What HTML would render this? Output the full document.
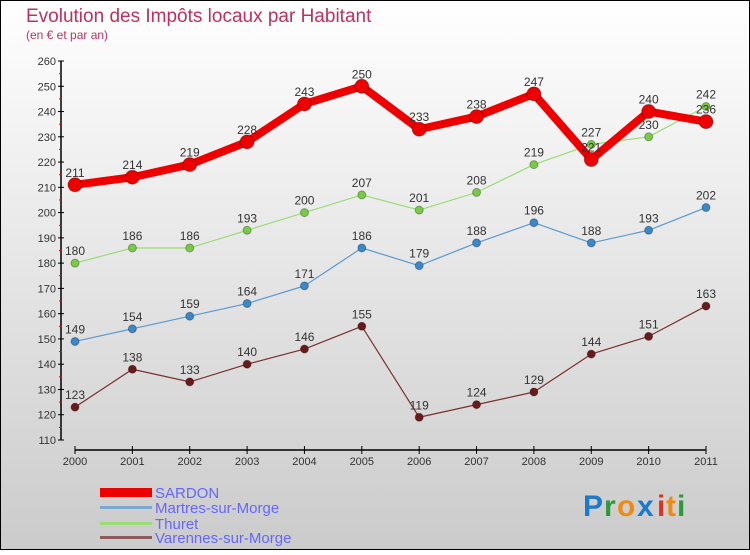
<!DOCTYPE html>
<html><head><meta charset="utf-8"><style>
html,body{margin:0;padding:0}
body{width:750px;height:550px;overflow:hidden;font-family:"Liberation Sans",sans-serif}
</style></head><body>
<svg id="c" width="750" height="550" xmlns="http://www.w3.org/2000/svg">
<defs><linearGradient id="bg" x1="0" y1="0" x2="0" y2="1"><stop offset="0" stop-color="#ffffff"/><stop offset="1" stop-color="#cbcbcb"/></linearGradient></defs>
<rect x="0.5" y="0.5" width="749" height="549" fill="url(#bg)" stroke="#000"/>
<text x="26" y="22" font-size="19" fill="#c0305a">Evolution des Impôts locaux par Habitant</text>
<text x="26" y="39" font-size="12" fill="#c0305a">(en € et par an)</text>
<g id="axes"></g><g id="series"></g>
<g>
<rect x="100" y="488" width="52" height="9" fill="#e00"/>
<text x="155" y="498" font-size="15" fill="#6666ff">SARDON</text>
<rect x="100" y="506" width="52" height="3" fill="#7aa8d0"/>
<text x="155" y="513" font-size="15" fill="#6666ff">Martres-sur-Morge</text>
<rect x="100" y="522" width="52" height="3" fill="#99dd77"/>
<text x="155" y="529" font-size="15" fill="#6666ff">Thuret</text>
<rect x="100" y="536" width="52" height="3" fill="#8b5a5a"/>
<text x="155" y="543" font-size="15" fill="#6666ff">Varennes-sur-Morge</text>
</g>
<g font-size="30" font-weight="bold">
<text x="583" y="516" fill="#1a7acc">P</text><text x="604" y="516" fill="#2a9a3a">r</text><text x="617" y="516" fill="#f08a10">o</text><text x="637" y="516" fill="#1a7acc">x</text><text x="657" y="516" fill="#e03020">i</text><text x="666" y="516" fill="#f08a10">t</text><text x="677" y="516" fill="#2a9a3a">i</text>
</g>
</svg>
<script>
const years=["2000","2001","2002","2003","2004","2005","2006","2007","2008","2009","2010","2011"];
const yTicks=[110,120,130,140,150,160,170,180,190,200,210,220,230,240,250,260];
const sardon=[211,214,219,228,243,250,233,238,247,221,240,236];
const martres=[149,154,159,164,171,186,179,188,196,188,193,202];
const thuret=[180,186,186,193,200,207,201,208,219,227,230,242];
const varennes=[123,138,133,140,146,155,119,124,129,144,151,163];
const NS="http://www.w3.org/2000/svg";
const X=i=>75+i*(706-75)/11;
const Y=v=>440-(v-110)*(440-61)/150;
function mk(t,a,p){const e=document.createElementNS(NS,t);for(const k in a)e.setAttribute(k,a[k]);p.appendChild(e);return e;}
const ax=document.getElementById('axes');
let l=mk('line',{x1:61,y1:61,x2:61,y2:440,stroke:'#000','stroke-width':1.5},ax);


l=mk('line',{x1:75,y1:450,x2:706,y2:450,stroke:'#000','stroke-width':1.5},ax);


yTicks.forEach((v,i)=>{
 mk('line',{x1:58,y1:Y(v),x2:64,y2:Y(v),stroke:'#000'},ax);
 if(i<yTicks.length-1)mk('line',{x1:59,y1:Y(v+5),x2:62,y2:Y(v+5),stroke:'#e00'},ax);
 const t=mk('text',{x:56,y:Y(v)+4,'font-size':11,fill:'#333','text-anchor':'end'},ax);
 t.textContent=v;
 
 
});
years.forEach((y,i)=>{
 mk('line',{x1:X(i),y1:446,x2:X(i),y2:454,stroke:'#000'},ax);
 const t=mk('text',{x:X(i),y:465,'font-size':11,fill:'#333','text-anchor':'middle'},ax);
 t.textContent=y;
 
 
});
const sg=document.getElementById('series');
function draw(data,color,w,r,name,dot){
 const g=mk('g',{},sg);
 
 
 const p=mk('polyline',{points:data.map((v,i)=>X(i)+','+Y(v)).join(' '),fill:'none',stroke:color,'stroke-width':w,'stroke-linejoin':'round'},g);
 
 
 data.forEach((v,i)=>{
  const c=mk('circle',{cx:X(i),cy:Y(v),r:r,fill:dot,stroke:'rgba(0,0,0,0.3)'},g);
  
  
  const t=mk('text',{x:X(i),y:Y(v)-8,'font-size':12,fill:'#333','text-anchor':'middle'},g);
  t.textContent=v;
  
  
 });
}
draw(varennes,'#7a3030',1.2,4,'varennes','#6a1a1a');
draw(martres,'#5a9ad0',1.2,4,'martres','#3a88cc');
draw(thuret,'#99dd77',1.2,4,'thuret','#77cc44');
draw(sardon,'#ee0000',8,7,'sardon','#ee0000');
</script>
</body></html>
